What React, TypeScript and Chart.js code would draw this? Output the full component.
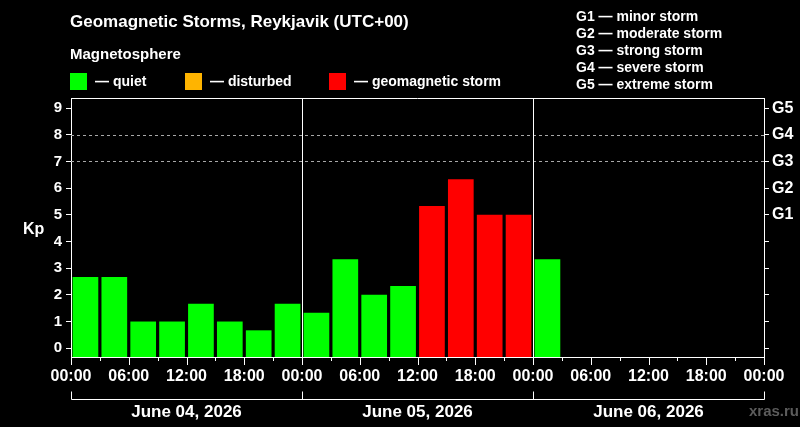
import React, { useEffect, useRef } from "react";
import { Chart, registerables } from "chart.js";

Chart.register(...registerables);

// ---- data ----
const hourLabels = ["00:00", "06:00", "12:00", "18:00", "00:00", "06:00", "12:00", "18:00", "00:00", "06:00", "12:00", "18:00", "00:00"];
const kpValues = [2.67, 2.67, 1, 1, 1.67, 1, 0.67, 1.67, 1.33, 3.33, 2, 2.33, 5.33, 6.33, 5, 5, 3.33];
const dayLabels = ["June 04, 2026", "June 05, 2026", "June 06, 2026"];
const kpTicks = [0, 1, 2, 3, 4, 5, 6, 7, 8, 9];
const gScaleLabels = ["G1", "G2", "G3", "G4", "G5"]; // Kp 5..9
const gLegend = ["G1 — minor storm", "G2 — moderate storm", "G3 — strong storm", "G4 — severe storm", "G5 — extreme storm"];
const statusLabels = ["— quiet", "— disturbed", "— geomagnetic storm"];
const statusColors = ["#00ff00", "#ffb400", "#ff0000"];
const dashedLevels = [7, 8];
const binsPerDay = 8;
const totalBins = 24;

const Y_MIN = -0.33;
const Y_MAX = 9.38;
const FONT = "'Liberation Sans', Arial, Helvetica, sans-serif";

function colorFor(v: number) {
  if (v >= 5) return statusColors[2];
  if (v >= 4) return statusColors[1];
  return statusColors[0];
}

const decorPlugin = {
  id: "decor",
  afterDraw(chart: any) {
    const ctx = chart.ctx as CanvasRenderingContext2D;
    const { left, right, top, bottom } = chart.chartArea;
    const xs = chart.scales.x;
    const ys = chart.scales.y;
    ctx.save();
    ctx.lineWidth = 1;

    // dashed storm levels
    ctx.strokeStyle = "#a8a8a8";
    ctx.setLineDash([3, 3]);
    dashedLevels.forEach((v) => {
      const py = Math.round(ys.getPixelForValue(v)) + 0.5;
      ctx.beginPath();
      ctx.moveTo(left, py);
      ctx.lineTo(right, py);
      ctx.stroke();
    });
    ctx.setLineDash([]);

    ctx.strokeStyle = "#ffffff";
    // top frame
    ctx.beginPath();
    ctx.moveTo(left, Math.round(top) + 0.5);
    ctx.lineTo(right, Math.round(top) + 0.5);
    ctx.stroke();

    // day separators
    for (let d = 1; d < dayLabels.length; d++) {
      const px = Math.round(xs.getPixelForValue(d * binsPerDay)) + 0.5;
      ctx.beginPath();
      ctx.moveTo(px, top);
      ctx.lineTo(px, bottom);
      ctx.stroke();
    }

    // x tick marks
    for (let i = 0; i <= totalBins; i++) {
      const px = Math.round(xs.getPixelForValue(i)) + 0.5;
      const len = i % 2 === 0 ? 8 : 4;
      ctx.beginPath();
      ctx.moveTo(px, bottom);
      ctx.lineTo(px, bottom + len);
      ctx.stroke();
    }

    // date bracket
    const by = 399.5;
    ctx.beginPath();
    ctx.moveTo(Math.round(xs.getPixelForValue(0)) + 0.5, by);
    ctx.lineTo(Math.round(xs.getPixelForValue(totalBins)) + 0.5, by);
    ctx.stroke();
    for (let d = 0; d <= dayLabels.length; d++) {
      const px = Math.round(xs.getPixelForValue(d * binsPerDay)) + 0.5;
      ctx.beginPath();
      ctx.moveTo(px, by - 8);
      ctx.lineTo(px, by);
      ctx.stroke();
    }

    // date labels
    ctx.fillStyle = "#ffffff";
    ctx.font = `bold 17px ${FONT}`;
    ctx.textAlign = "center";
    ctx.textBaseline = "alphabetic";
    dayLabels.forEach((lab, d) => {
      const cx = (xs.getPixelForValue(d * binsPerDay) + xs.getPixelForValue((d + 1) * binsPerDay)) / 2;
      ctx.fillText(lab, cx, 417);
    });

    // watermark
    ctx.fillStyle = "#5c5c5c";
    ctx.font = `bold 15px ${FONT}`;
    ctx.textAlign = "right";
    ctx.fillText("xras.ru", 799, 416);

    // Kp label
    ctx.fillStyle = "#ffffff";
    ctx.font = `bold 16px ${FONT}`;
    ctx.textAlign = "left";
    ctx.fillText("Kp", 23, 234);

    // title
    ctx.font = `bold 17px ${FONT}`;
    ctx.fillText("Geomagnetic Storms, Reykjavik (UTC+00)", 70, 27);

    ctx.font = `bold 15px ${FONT}`;
    ctx.fillText("Magnetosphere", 70, 59);

    // status legend
    const legendX = [70, 185, 329];
    ctx.font = `bold 14px ${FONT}`;
    statusLabels.forEach((lab, i) => {
      ctx.fillStyle = statusColors[i];
      ctx.fillRect(legendX[i], 73, 17, 17);
      ctx.fillStyle = "#ffffff";
      ctx.fillText(lab, legendX[i] + 25, 86);
    });

    // G legend
    ctx.font = `bold 14px ${FONT}`;
    gLegend.forEach((lab, i) => {
      ctx.fillText(lab, 576, 21 + i * 17);
    });

    ctx.restore();
  },
};

export default function App() {
  const ref = useRef<HTMLCanvasElement | null>(null);

  useEffect(() => {
    document.body.style.margin = "0";
    document.body.style.background = "#000";
    const canvas = ref.current;
    if (!canvas) return;
    Chart.defaults.font.family = FONT;

    const chart = new Chart(canvas, {
      type: "bar",
      data: {
        datasets: [
          {
            data: kpValues.map((v, i) => ({ x: i + 0.5, y: v })),
            backgroundColor: kpValues.map(colorFor),
            borderWidth: 0,
            base: Y_MIN,
            barPercentage: 0.89,
            categoryPercentage: 1.0,
          } as any,
        ],
      },
      options: {
        responsive: false,
        animation: false,
        devicePixelRatio: 1,
        layout: { padding: { top: 98, left: 0, right: 0, bottom: 0 } },
        plugins: { legend: { display: false }, tooltip: { enabled: false } },
        scales: {
          x: {
            type: "linear",
            min: 0,
            max: totalBins,
            offset: false,
            afterFit: (s: any) => {
              s.height = 70;
            },
            afterBuildTicks: (s: any) => {
              const t = [];
              for (let i = 0; i <= totalBins; i++) t.push({ value: i });
              s.ticks = t;
            },
            grid: { display: true, drawOnChartArea: false, drawTicks: false },
            border: { display: true, color: "#ffffff", width: 1 },
            ticks: {
              autoSkip: false,
              maxRotation: 0,
              padding: 10,
              color: "#ffffff",
              font: { size: 16, weight: "bold" },
              callback: (v: any) => (Number(v) % 2 === 0 ? hourLabels[Number(v) / 2] : ""),
            },
          },
          y: {
            type: "linear",
            position: "left",
            min: Y_MIN,
            max: Y_MAX,
            afterFit: (s: any) => {
              s.width = 71;
            },
            afterBuildTicks: (s: any) => {
              s.ticks = kpTicks.map((v) => ({ value: v }));
            },
            grid: { drawOnChartArea: false, drawTicks: true, tickLength: 5, tickColor: "#ffffff" },
            border: { display: true, color: "#ffffff", width: 1 },
            ticks: {
              padding: 4,
              color: "#ffffff",
              font: { size: 15, weight: "bold" },
              callback: (v: any) => String(v),
            },
          },
          y2: {
            type: "linear",
            position: "right",
            min: Y_MIN,
            max: Y_MAX,
            afterFit: (s: any) => {
              s.width = 36;
            },
            afterBuildTicks: (s: any) => {
              s.ticks = kpTicks.map((v) => ({ value: v }));
            },
            grid: { drawOnChartArea: false, drawTicks: true, tickLength: 5, tickColor: "#ffffff" },
            border: { display: true, color: "#ffffff", width: 1 },
            ticks: {
              padding: 3,
              color: "#ffffff",
              font: { size: 16, weight: "bold" },
              callback: (v: any) => (Number(v) >= 5 ? gScaleLabels[Number(v) - 5] : ""),
            },
          },
        },
      } as any,
      plugins: [decorPlugin],
    });
    return () => chart.destroy();
  }, []);

  return (
    <div style={{ width: 800, height: 427, background: "#000" }}>
      <canvas ref={ref} width={800} height={427} style={{ display: "block" }} />
    </div>
  );
}
